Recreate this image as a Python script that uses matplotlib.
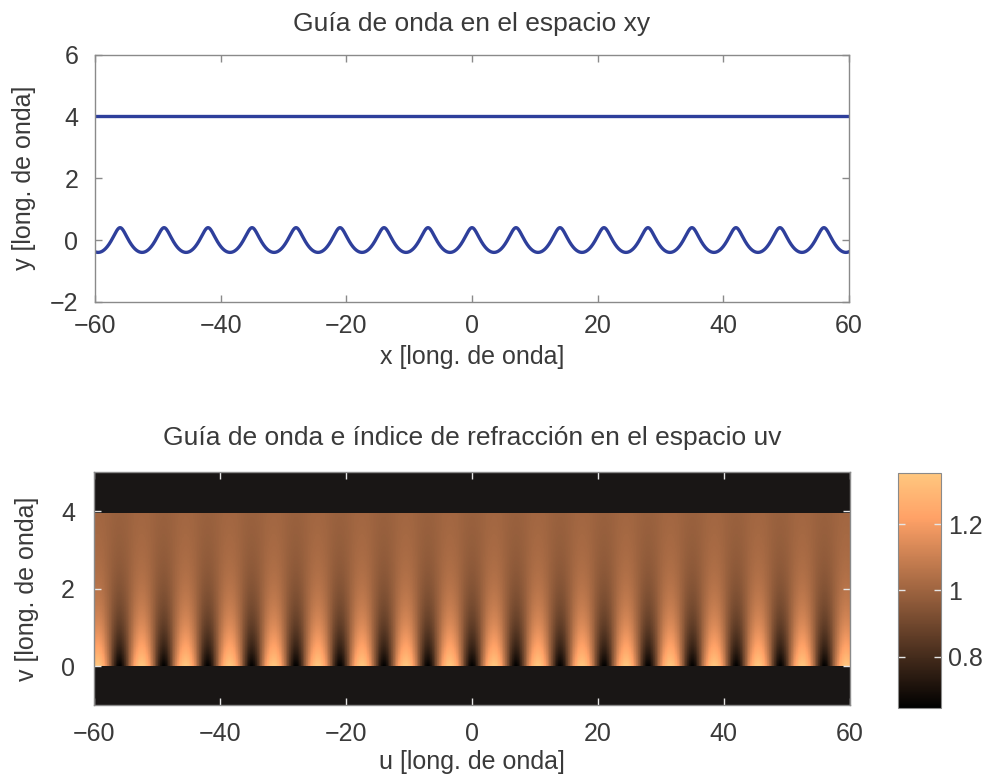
"""Waveguide with a corrugated floor: xy geometry and the uv index map."""
import matplotlib.pyplot as plt
import numpy as np

# guide geometry, in wavelengths
x_range = [-60.0, 60.0]
guide_top = 4.0        # flat upper wall
wave_amp = 0.4         # corrugation amplitude of the lower wall
wave_period = 7.0      # corrugation period
strip_height = 3.95    # height of the straightened guide in uv
v_range = [-1.0, 5.0]

x_ticks = [-60, -40, -20, 0, 20, 40, 60]
y_ticks = [-2, 0, 2, 4, 6]
v_ticks = [0, 2, 4]
cbar_ticks = [0.8, 1.0, 1.2]
cbar_labels = ["0.8", "1", "1.2"]

plt.rcParams["font.family"] = ["Liberation Sans", "DejaVu Sans"]
plt.rcParams["font.size"] = 18
TXT = "#3a3a3a"
SPINE = "#8a8a8a"
LINE = "#2e3f9b"

k = 2 * np.pi / wave_period

# lower wall is a trochoid: x = u - a sin(ku), y = a cos(ku)
u = np.linspace(x_range[0] - 1, x_range[1] + 1, 4000)
x_wall = u - wave_amp * np.sin(k * u)
y_wall = wave_amp * np.cos(k * u)

# index in uv = |dz/dw| for z = w + i a exp(i k w)
nu, nv = 1200, 500
uu = np.linspace(x_range[0], x_range[1], nu)
vv = np.linspace(v_range[0], v_range[1], nv)
U, V = np.meshgrid(uu, vv)
W = U + 1j * V
n_uv = np.abs(1 - wave_amp * k * np.exp(1j * k * W))
inside = (V >= 0) & (V <= strip_height)
n_uv = np.ma.masked_where(~inside, n_uv)

fig = plt.figure(figsize=(9.89, 7.79), dpi=100)


def style(ax, tick_color, xpad, ypad):
    for s in ax.spines.values():
        s.set_color(SPINE)
        s.set_linewidth(1.0)
    ax.tick_params(direction="in", length=5, width=1, color=tick_color,
                   labelcolor=TXT, top=True, right=True)
    ax.tick_params(axis="x", pad=xpad)
    ax.tick_params(axis="y", pad=ypad)


ax1 = fig.add_axes([0.096, 0.6125, 0.7625, 0.3175])
ax1.plot(x_wall, y_wall, color=LINE, lw=2.4)
ax1.axhline(guide_top, color=LINE, lw=2.4)
ax1.set_xlim(*x_range)
ax1.set_ylim(-2, 6)
ax1.set_xticks(x_ticks)
ax1.set_yticks(y_ticks)
ax1.set_xlabel("x [long. de onda]", color=TXT, labelpad=5)
ax1.set_ylabel("y [long. de onda]", color=TXT, labelpad=10)
ax1.set_title("Guía de onda en el espacio xy", color=TXT, pad=17,
              fontsize=19)
style(ax1, SPINE, xpad=9, ypad=12)

cmap = plt.get_cmap("copper").copy()
cmap.set_bad("#191615")

ax2 = fig.add_axes([0.0955, 0.095, 0.7635, 0.2985])
im = ax2.pcolormesh(U, V, n_uv, cmap=cmap, shading="auto", rasterized=True)
ax2.set_facecolor("#191615")
ax2.set_xlim(*x_range)
ax2.set_ylim(*v_range)
ax2.set_xticks(x_ticks)
ax2.set_yticks(v_ticks)
ax2.set_xlabel("u [long. de onda]", color=TXT, labelpad=3)
ax2.set_ylabel("v [long. de onda]", color=TXT, labelpad=16)
ax2.set_title("Guía de onda e índice de refracción en el espacio uv",
              color=TXT, pad=20, fontsize=19)
style(ax2, "#e6e6e6", xpad=12, ypad=14)

cax = fig.add_axes([0.908, 0.091, 0.0435, 0.302])
cb = fig.colorbar(im, cax=cax, ticks=cbar_ticks)
cb.ax.set_yticklabels(cbar_labels)
cb.outline.set_edgecolor(SPINE)
cb.ax.tick_params(direction="in", length=5, width=1, color="#e6e6e6",
                  labelcolor=TXT, left=True, right=True, pad=5)

fig.savefig("out.png", dpi=100)
